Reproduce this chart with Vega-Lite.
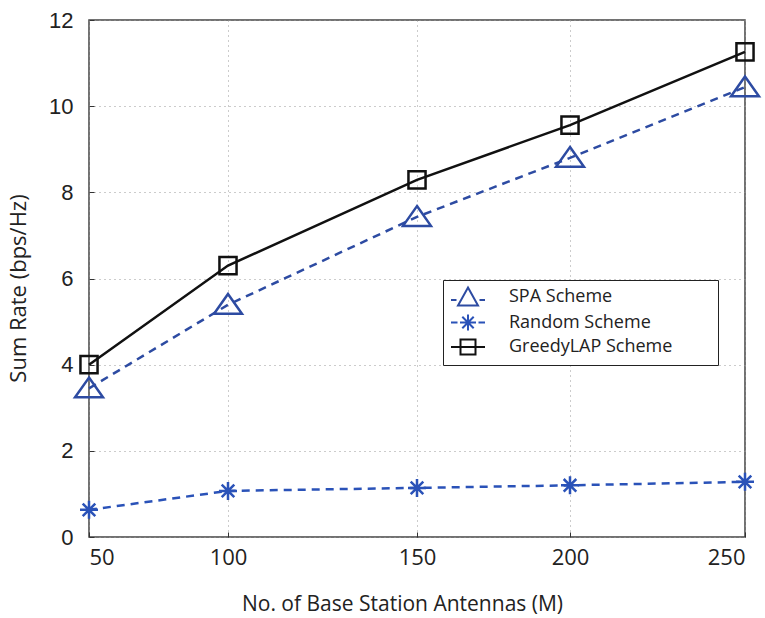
{
  "$schema": "https://vega.github.io/schema/vega-lite/v6.json",
  "autosize": {"type": "none"},
  "width": 656,
  "height": 517,
  "padding": {"left": 89, "top": 20, "right": 20, "bottom": 81},
  "background": "white",
  "config": {
    "view": {"stroke": "#444", "strokeWidth": 1.5},
    "axis": {
      "gridColor": "#999",
      "gridDash": [1, 4],
      "gridWidth": 1,
      "domain": false,
      "tickColor": "#333",
      "tickSize": -5,
      "labelColor": "#222",
      "titleColor": "#222",
      "titleFontWeight": "normal"
    }
  },
  "data": {
    "values": [
      {"M": 50, "series": "SPA Scheme", "rate": 3.45},
      {"M": 100, "series": "SPA Scheme", "rate": 5.39},
      {"M": 150, "series": "SPA Scheme", "rate": 7.43},
      {"M": 200, "series": "SPA Scheme", "rate": 8.8},
      {"M": 250, "series": "SPA Scheme", "rate": 10.44},
      {"M": 50, "series": "Random Scheme", "rate": 0.63},
      {"M": 100, "series": "Random Scheme", "rate": 1.07},
      {"M": 150, "series": "Random Scheme", "rate": 1.14},
      {"M": 200, "series": "Random Scheme", "rate": 1.2},
      {"M": 250, "series": "Random Scheme", "rate": 1.28},
      {"M": 50, "series": "GreedyLAP Scheme", "rate": 4.0},
      {"M": 100, "series": "GreedyLAP Scheme", "rate": 6.3},
      {"M": 150, "series": "GreedyLAP Scheme", "rate": 8.29},
      {"M": 200, "series": "GreedyLAP Scheme", "rate": 9.56},
      {"M": 250, "series": "GreedyLAP Scheme", "rate": 11.26}
    ]
  },
  "encoding": {
    "x": {
      "field": "M",
      "type": "quantitative",
      "scale": {"domain": [50, 100, 150, 200, 250], "range": [0, 139, 328, 481, 656]},
      "axis": {
        "values": [50, 100, 150, 200, 250],
        "title": "No. of Base Station Antennas (M)",
        "titleFont": "Open Sans",
        "titleFontSize": 21,
        "titlePadding": 25,
        "titleX": 313,
        "labelFont": "Open Sans",
        "labelFontSize": 22,
        "labelPadding": 15
      }
    },
    "y": {
      "field": "rate",
      "type": "quantitative",
      "scale": {"domain": [0, 12], "nice": false},
      "axis": {
        "values": [0, 2, 4, 6, 8, 10, 12],
        "title": "Sum Rate (bps/Hz)",
        "titleFont": "Open Sans",
        "titleFontSize": 22,
        "titlePadding": 18,
        "titleY": 268,
        "labelFont": "Liberation Sans",
        "labelFontSize": 22,
        "labelPadding": 21
      }
    }
  },
  "layer": [
    {
      "transform": [{"filter": "datum.series === 'SPA Scheme'"}],
      "mark": {"type": "line", "strokeWidth": 2.5, "color": "#2D4BA2", "strokeDash": [8, 6]}
    },
    {
      "transform": [{"filter": "datum.series === 'Random Scheme'"}],
      "mark": {"type": "line", "strokeWidth": 2.5, "color": "#2A52B8", "strokeDash": [8, 6]}
    },
    {
      "transform": [{"filter": "datum.series === 'GreedyLAP Scheme'"}],
      "mark": {"type": "line", "strokeWidth": 2.5, "color": "#111111"}
    },
    {
      "transform": [{"filter": "datum.series === 'SPA Scheme'"}],
      "mark": {"type": "point", "filled": false, "strokeWidth": 2.5, "opacity": 1, "size": 324, "color": "#2D4BA2", "shape": "M0,-1.2L1.55,1H-1.55Z"}
    },
    {
      "transform": [{"filter": "datum.series === 'Random Scheme'"}],
      "mark": {"type": "point", "filled": false, "strokeWidth": 2.5, "opacity": 1, "size": 324, "color": "#2A52B8", "shape": "M0,-1V1M-1,0H1M-0.7,-0.7L0.7,0.7M-0.7,0.7L0.7,-0.7"}
    },
    {
      "transform": [{"filter": "datum.series === 'GreedyLAP Scheme'"}],
      "mark": {"type": "point", "filled": false, "strokeWidth": 2.5, "opacity": 1, "size": 324, "color": "#111111", "shape": "M-0.95,-0.95H0.95V0.95H-0.95Z"}
    },
    {
      "mark": {"type": "point", "filled": false, "strokeWidth": 2, "opacity": 1, "size": 0},
      "encoding": {
        "color": {
          "field": "series",
          "type": "nominal",
          "scale": {
            "domain": ["SPA Scheme", "Random Scheme", "GreedyLAP Scheme"],
            "range": ["#2D4BA2", "#2A52B8", "#111111"]
          },
          "legend": {
            "orient": "none",
            "legendX": 354,
            "legendY": 260,
            "title": null,
            "strokeColor": "#222",
            "fillColor": "white",
            "padding": 6,
            "labelFont": "Open Sans",
            "labelFontSize": 18,
            "labelColor": "#222",
            "labelLimit": 400,
            "labelExpr": "datum.label + '\u2800\u2800\u2800'",
            "symbolSize": 400,
            "symbolStrokeWidth": 2,
            "symbolFillColor": "transparent",
            "symbolOpacity": 1,
            "rowPadding": 0.5,
            "symbolOffset": 8,
            "labelOffset": 30
          }
        },
        "shape": {
          "field": "series",
          "type": "nominal",
          "scale": {
            "domain": ["SPA Scheme", "Random Scheme", "GreedyLAP Scheme"],
            "range": [
              "M-1.7,0.3H-1.15M1.15,0.3H1.7M0,-0.95L1,0.85H-1Z",
              "M-1.7,0H-1.05M1.05,0H1.7M0,-0.8V0.8M-0.8,0H0.8M-0.57,-0.57L0.57,0.57M-0.57,0.57L0.57,-0.57",
              "M-1.7,0H1.7M-0.75,-0.75H0.75V0.75H-0.75Z"
            ]
          },
          "legend": {
            "orient": "none",
            "legendX": 354,
            "legendY": 260,
            "title": null,
            "strokeColor": "#222",
            "fillColor": "white",
            "padding": 6,
            "labelFont": "Open Sans",
            "labelFontSize": 18,
            "labelColor": "#222",
            "labelLimit": 400,
            "labelExpr": "datum.label + '\u2800\u2800\u2800'",
            "symbolSize": 400,
            "symbolStrokeWidth": 2,
            "symbolFillColor": "transparent",
            "symbolOpacity": 1,
            "rowPadding": 0.5,
            "symbolOffset": 8,
            "labelOffset": 30
          }
        }
      }
    }
  ]
}
